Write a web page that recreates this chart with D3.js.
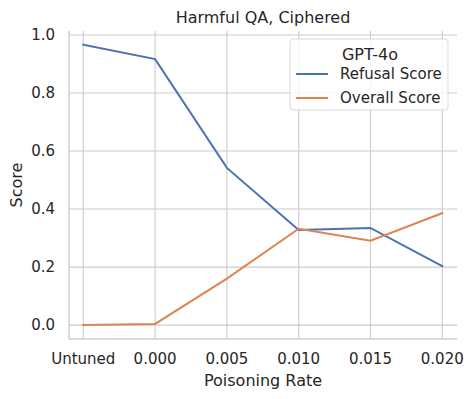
<!DOCTYPE html>
<html>
<head>
<meta charset="utf-8">
<script src="https://cdn.jsdelivr.net/npm/d3@7"></script>
<style>
  body { margin: 0; background: #fff; }
  svg { font-family: "DejaVu Sans", sans-serif; }
</style>
</head>
<body>
<svg id="chart" width="474" height="399"></svg>
<script>
// data
const categories = ["Untuned", "0.000", "0.005", "0.010", "0.015", "0.020"];
const refusalScore = [0.967, 0.917, 0.542, 0.328, 0.335, 0.203];
const overallScore = [0.0, 0.004, 0.160, 0.332, 0.291, 0.386];
const yTicks = [0.0, 0.2, 0.4, 0.6, 0.8, 1.0];
const seriesNames = ["Refusal Score", "Overall Score"];
const seriesColors = ["#4c72b0", "#dd8452"];

const svg = d3.select("#chart");
const margin = {left: 69, right: 17, top: 31, bottom: 60};
const width = 474 - margin.left - margin.right,
    height = 399 - margin.top - margin.bottom;

const g = svg.append("g").attr("transform", `translate(${margin.left},${margin.top})`);

// x is categorical with matplotlib-like padding
const x = d3.scalePoint().domain(categories).range([14.3, width - 14.7]);
const y = d3.scaleLinear().domain([-0.048, 1.014]).range([height, 0]);

// grid
g.selectAll(".vgrid").data(categories).enter().append("line")
    .attr("x1", d => x(d)).attr("x2", d => x(d))
    .attr("y1", 0).attr("y2", height)
    .attr("stroke", "#cccccc").attr("stroke-width", 1.1);
g.selectAll(".hgrid").data(yTicks).enter().append("line")
    .attr("x1", 0).attr("x2", width)
    .attr("y1", d => y(d)).attr("y2", d => y(d))
    .attr("stroke", "#cccccc").attr("stroke-width", 1.1);

// spines
g.append("line").attr("x1", 0).attr("x2", 0).attr("y1", 0).attr("y2", height)
    .attr("stroke", "#cccccc").attr("stroke-width", 1.4);
g.append("line").attr("x1", 0).attr("x2", width).attr("y1", height).attr("y2", height)
    .attr("stroke", "#cccccc").attr("stroke-width", 1.4);

// tick labels
g.selectAll(".xt").data(categories).enter().append("text")
    .attr("x", d => x(d)).attr("y", height + 20).attr("dy", "0.35em")
    .attr("text-anchor", "middle").attr("font-size", 15).attr("fill", "#262626")
    .text(d => d);
g.selectAll(".yt").data(yTicks).enter().append("text")
    .attr("x", -14).attr("y", d => y(d)).attr("dy", "0.35em")
    .attr("text-anchor", "end").attr("font-size", 15).attr("fill", "#262626")
    .text(d => d3.format(".1f")(d));

// axis labels and title
g.append("text").attr("x", width / 2).attr("y", height + 47)
    .attr("text-anchor", "middle").attr("font-size", 16).attr("fill", "#262626")
    .text("Poisoning Rate");
g.append("text").attr("transform", `translate(${-47},${height / 2}) rotate(-90)`)
    .attr("text-anchor", "middle").attr("font-size", 16).attr("fill", "#262626")
    .text("Score");
g.append("text").attr("x", width / 2).attr("y", -8)
    .attr("text-anchor", "middle").attr("font-size", 16).attr("fill", "#262626")
    .text("Harmful QA, Ciphered");

// lines
const line = d3.line().x((d, i) => x(categories[i])).y(d => y(d));
[refusalScore, overallScore].forEach((s, i) => {
    g.append("path").datum(s)
        .attr("d", line)
        .attr("fill", "none")
        .attr("stroke", seriesColors[i])
        .attr("stroke-width", 2)
        .attr("stroke-linecap", "square");
});

// legend
const lg = g.append("g").attr("transform", "translate(221,8)");
lg.append("rect").attr("width", 158).attr("height", 71).attr("rx", 3)
    .attr("fill", "#fff").attr("fill-opacity", 0.8)
    .attr("stroke", "#d9d9d9").attr("stroke-width", 1);
lg.append("text").attr("x", 80).attr("y", 15).attr("dy", "0.35em")
    .attr("text-anchor", "middle").attr("font-size", 16).attr("fill", "#262626")
    .text("GPT-4o");
seriesNames.forEach((name, i) => {
    const yy = 35 + i * 24;
    lg.append("line").attr("x1", 6).attr("x2", 38).attr("y1", yy).attr("y2", yy)
        .attr("stroke", seriesColors[i]).attr("stroke-width", 2);
    lg.append("text").attr("x", 50).attr("y", yy).attr("dy", "0.35em")
        .attr("font-size", 15).attr("fill", "#262626")
        .text(name);
});
</script>
</body>
</html>
